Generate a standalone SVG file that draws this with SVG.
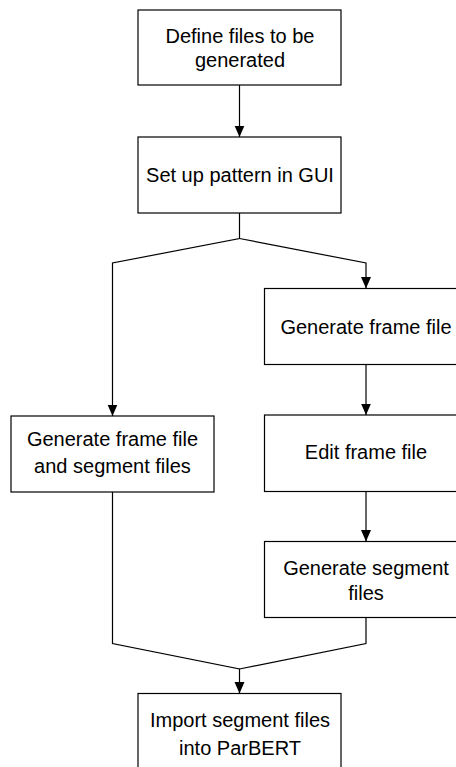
<svg xmlns="http://www.w3.org/2000/svg" width="456" height="767" viewBox="0 0 456 767">
<defs>
<style>
.box{fill:#fff;stroke:#000;stroke-width:1.2}
.lbl{font-family:"Liberation Sans",Arial,sans-serif;font-size:20px;fill:#000;text-anchor:middle}
.con{fill:none;stroke:#000;stroke-width:1.2}
</style>
<marker id="arr" markerUnits="userSpaceOnUse" markerWidth="12" markerHeight="11" refX="11.5" refY="5" orient="auto" viewBox="0 0 12 10">
<path d="M0,0 L11.5,5 L0,10 Z" fill="#000"/>
</marker>
</defs>
<rect width="456" height="767" fill="#fff"/>
<g id="connectors">
<path class="con" d="M239.5,85 V137" marker-end="url(#arr)"/>
<path class="con" d="M239.5,213 V238.5 L112.5,263 V416" marker-end="url(#arr)"/>
<path class="con" d="M239.5,238.5 L366,263 V288.5" marker-end="url(#arr)"/>
<path class="con" d="M366,364.5 V415" marker-end="url(#arr)"/>
<path class="con" d="M366,491.5 V541.5" marker-end="url(#arr)"/>
<path class="con" d="M112.5,492 V643.5 L239.5,669 V693.5" marker-end="url(#arr)"/>
<path class="con" d="M366,617.5 V643.5 L239.5,669"/>
</g>
<g id="define">
<rect class="box" x="138" y="10" width="203" height="75"/>
<text class="lbl" x="240" y="42.5">Define files to be</text>
<text class="lbl" x="240" y="66.5">generated</text>
</g>
<g id="setup">
<rect class="box" x="138" y="137" width="203" height="76"/>
<text class="lbl" x="240" y="182">Set up pattern in GUI</text>
</g>
<g id="genboth">
<rect class="box" x="11" y="416" width="203" height="76"/>
<text class="lbl" x="112.5" y="445.5">Generate frame file</text>
<text class="lbl" x="112.5" y="473">and segment files</text>
</g>
<g id="genframe">
<rect class="box" x="264.5" y="288.5" width="203" height="76"/>
<text class="lbl" x="366" y="333.5">Generate frame file</text>
</g>
<g id="editframe">
<rect class="box" x="264.5" y="415" width="203" height="76.5"/>
<text class="lbl" x="366" y="458.5">Edit frame file</text>
</g>
<g id="genseg">
<rect class="box" x="264.5" y="541.5" width="203" height="76"/>
<text class="lbl" x="366" y="574.5">Generate segment</text>
<text class="lbl" x="366" y="599.5">files</text>
</g>
<g id="import">
<rect class="box" x="138" y="693.5" width="203" height="76"/>
<text class="lbl" x="240" y="727">Import segment files</text>
<text class="lbl" x="240" y="754.5">into ParBERT</text>
</g>
</svg>
